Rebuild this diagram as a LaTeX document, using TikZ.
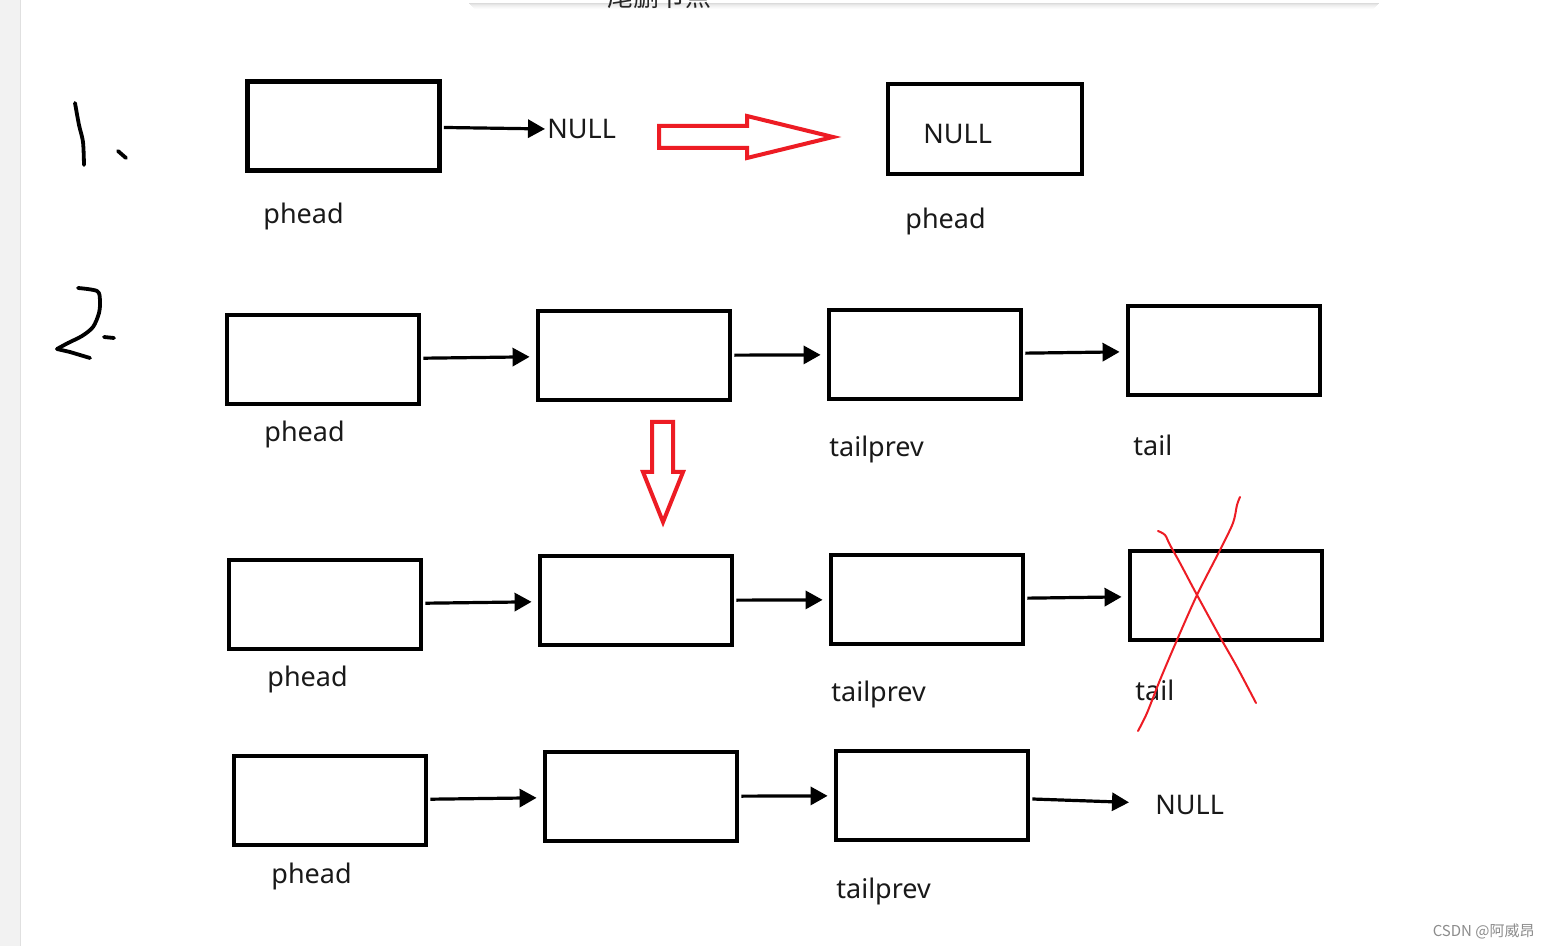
\documentclass[tikz,border=0pt]{standalone}
\usepackage{fontspec}
\setmainfont{Noto Sans}
\newfontfamily\cjkfont{Noto Sans CJK SC}
\usetikzlibrary{arrows.meta}

\definecolor{rojopaint}{RGB}{237,28,36}
\definecolor{gristira}{RGB}{242,242,242}

\begin{document}
\begin{tikzpicture}[
		x=0.5pt, y=-0.5pt,
		% --- ESTILOS ---
		nodo/.style = {draw, rectangle, line width=2.4pt, minimum width=96pt, minimum height=44.5pt, inner sep=0pt},
		etiqueta/.style = {anchor=base west, inner sep=0pt, font=\fontsize{13.5}{16}\selectfont, text=black!90},
		enlace/.style = {-{Triangle[length=8.5pt, width=9pt]}, line width=1.6pt, shorten <=1pt, shorten >=3pt},
		flecha_roja/.style = {draw=rojopaint, line width=2pt, line join=miter},
		cruz/.style = {draw=rojopaint, line width=1pt, line cap=round},
		trazo/.style = {line width=1.9pt, line cap=round, line join=round}
		]
		
		\useasboundingbox (0,0) rectangle (1549,946);
		\clip (0,0) rectangle (1549,946);
		
		% --- FONDO DE LA PAGINA ---
		\fill[white] (0,0) rectangle (1549,946);
		\fill[gristira] (0,0) rectangle (20,946);
		\draw[black!12, line width=0.5pt] (20,0) -- (20,946);
		
		% Panel superior cortado (con sombra)
		\foreach \i/\op in {1/0.14, 2/0.10, 3/0.07, 4/0.05, 5/0.03, 6/0.015}
		\draw[black, opacity=\op, line width=0.5pt] (468+\i,3+\i) -- (1380-\i,3+\i);
		\fill[white] (468,-10) rectangle (1380,3);
		\node[anchor=base, inner sep=0pt, font=\cjkfont\fontsize{13}{15}\selectfont, text=black!85] (titulo) at (659,7) {尾删节点};
		
		% --- CASO 1 ---
		\draw[trazo] plot[smooth] coordinates {(75,103) (79,125) (83,142) (84,165)};
		\draw[trazo] (118,151) -- (126,158);
		
		\node[nodo] (A) at (343.5,126) {};
		\node[etiqueta] (nullA) at (547,139) {NULL};
		\node[etiqueta] (pA) at (263,224) {phead};
		\draw[enlace, shorten >=1pt] (A) -- (nullA);
		
		% Flecha roja hueca hacia la derecha
		\draw[flecha_roja] (659,126) -- (747,126) -- (747,116) -- (833,137) -- (747,158) -- (747,148) -- (659,148) -- cycle;
		
		\node[nodo, minimum width=97pt, minimum height=45pt] (B) at (985,129) {};
		\node[etiqueta] (nullB) at (923,144) {NULL};
		\node[etiqueta] (pB) at (905,229) {phead};
		
		% --- CASO 2 ---
		\draw[trazo] plot[smooth] coordinates {(78,288) (97,291) (100,300) (99,313) (93,327) (82,336) (68,343) (57,349)};
		\draw[trazo] (57,349) -- (70,352) -- (90,358);
		\draw[trazo] (104,337) -- (114,338);
		
		% Lista original
		\node[nodo] (b1) at (323,359.5) {};
		\node[nodo] (b2) at (634,355.5) {};
		\node[nodo] (b3) at (925,354.5) {};
		\node[nodo] (b4) at (1224,350.5) {};
		
		\node[etiqueta] (pb1) at (264,442) {phead};
		\node[etiqueta] (tpb3) at (829,457) {tailprev};
		\node[etiqueta] (tb4) at (1133,456) {tail};
		
		\draw[enlace] (b1) -- (b2);
		\draw[enlace] (b2) -- (b3);
		\draw[enlace] (b3) -- (b4);
		
		% Flecha roja hueca hacia abajo
		\draw[flecha_roja] (652,422) -- (673,422) -- (673,472) -- (683,472) -- (663,522) -- (643,472) -- (652,472) -- cycle;
		
		% Lista con el nodo tail eliminado
		\node[nodo] (c1) at (325,604.5) {};
		\node[nodo] (c2) at (636,600.5) {};
		\node[nodo] (c3) at (927,599.5) {};
		\node[nodo] (c4) at (1226,595.5) {};
		
		\node[etiqueta] (pc1) at (267,687) {phead};
		\node[etiqueta] (tpc3) at (831,702) {tailprev};
		\node[etiqueta] (tc4) at (1135,701) {tail};
		
		\draw[enlace] (c1) -- (c2);
		\draw[enlace] (c2) -- (c3);
		\draw[enlace] (c3) -- (c4);
		
		% Cruz roja sobre tail
		\draw[cruz] plot[smooth] coordinates {(1158,531) (1165,535) (1170,545) (1180,563) (1197,595) (1220,637) (1237,667) (1256,703)};
		\draw[cruz] plot[smooth] coordinates {(1240,497) (1237,505) (1233,523) (1220,550) (1197,595) (1177,640) (1160,680) (1147,713) (1138,731)};
		
		% Lista resultante
		\node[nodo] (d1) at (330,800.5) {};
		\node[nodo] (d2) at (641,796.5) {};
		\node[nodo] (d3) at (932,795.5) {};
		
		\node[etiqueta] (pd1) at (271,883) {phead};
		\node[etiqueta] (tpd3) at (836,898) {tailprev};
		\node[etiqueta] (nullD) at (1155,814) {NULL};
		
		\draw[enlace] (d1) -- (d2);
		\draw[enlace] (d2) -- (d3);
		\draw[enlace, shorten >=13pt] (d3) -- (nullD);
		
		% --- MARCA DE AGUA ---
		\node[anchor=base east, inner sep=0pt, font=\cjkfont\fontsize{7.5}{9}\selectfont, text=black!45] (marca) at (1535,936) {CSDN @阿威昂};
		
	\end{tikzpicture}
\end{document}
